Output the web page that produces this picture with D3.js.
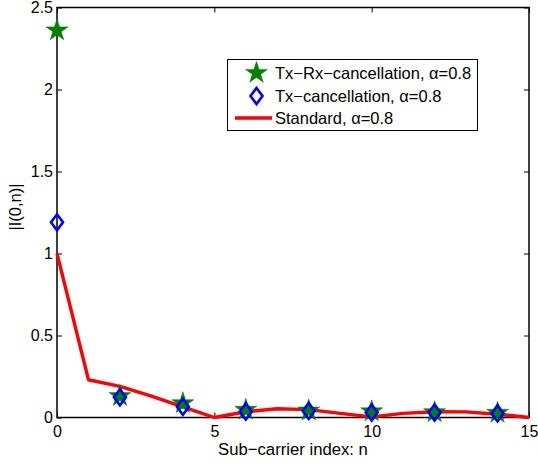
<!DOCTYPE html>
<html>
<head>
<meta charset="utf-8">
<style>
  body { margin: 0; background: #fff; }
  svg { font-family: "Liberation Sans", Arial, sans-serif; }
</style>
</head>
<body>
<script src="https://d3js.org/d3.v7.min.js"></script>
<svg id="chart" width="538" height="464"></svg>
<script>
// data
const stdN   = [0, 1, 2, 3, 4, 5, 6, 7, 8, 9, 10, 11, 12, 13, 14, 15];
const stdVal = [1, 0.23, 0.19, 0.13, 0.065, 0, 0.035, 0.053, 0.048, 0.025, 0.004, 0.025, 0.035, 0.034, 0.02, 0];
const markN  = [0, 2, 4, 6, 8, 10, 12, 14];
const txRxVal = [2.36, 0.13, 0.087, 0.047, 0.042, 0.037, 0.032, 0.028];
const txVal   = [1.19, 0.123, 0.065, 0.036, 0.04, 0.03, 0.03, 0.025];
const xTicks = [0, 5, 10, 15];
const yTicks = [0, 0.5, 1, 1.5, 2, 2.5];
const legendLabels = ["Tx\u2212Rx\u2212cancellation, \u03b1=0.8", "Tx\u2212cancellation, \u03b1=0.8", "Standard, \u03b1=0.8"];

const svg = d3.select("#chart");
const mLeft = 57, mRight = 529, mTop = 7.5, mBottom = 417.5;

const x = d3.scaleLinear().domain([0, 15]).range([mLeft, mRight]);
const y = d3.scaleLinear().domain([0, 2.5]).range([mBottom, mTop]);

// axes (matlab-ish box with inward ticks)
const tl = 5;
svg.append("g").attr("transform", `translate(0,${mBottom})`)
  .call(d3.axisBottom(x).tickValues(xTicks).tickSize(-tl).tickPadding(8).tickFormat(d3.format("d")))
  .call(g => g.select(".domain").remove());
svg.append("g").attr("transform", `translate(0,${mTop})`)
  .call(d3.axisTop(x).tickValues(xTicks).tickSize(-tl).tickFormat(""))
  .call(g => g.select(".domain").remove());
svg.append("g").attr("transform", `translate(${mLeft},0)`)
  .call(d3.axisLeft(y).tickValues(yTicks).tickSize(-tl).tickPadding(4).tickFormat(d => d))
  .call(g => g.select(".domain").remove());
svg.append("g").attr("transform", `translate(${mRight},0)`)
  .call(d3.axisRight(y).tickValues(yTicks).tickSize(-tl).tickFormat(""))
  .call(g => g.select(".domain").remove());

svg.selectAll(".tick line").attr("stroke", "#000").attr("stroke-width", 1);
svg.selectAll(".tick text").attr("fill", "#000").style("font-size", "16px").style("font-family", "Liberation Sans, Arial, sans-serif");

svg.append("rect")
  .attr("x", mLeft).attr("y", mTop).attr("width", mRight - mLeft).attr("height", mBottom - mTop)
  .attr("fill", "none").attr("stroke", "#000").attr("stroke-width", 1.5);

// standard line
const line = d3.line().x((d, i) => x(stdN[i])).y(d => y(d));
svg.append("path").datum(stdVal)
  .attr("d", line).attr("fill", "none").attr("stroke", "#ff0000").attr("stroke-width", 3.4)
  .attr("stroke-linejoin", "round");

const star = d3.symbol().type(d3.symbolStar).size(150);
const diamond = "M0,-8 L6,0 L0,8 L-6,0 Z";

svg.append("g").selectAll("path")
  .data(txRxVal).join("path")
  .attr("transform", (d, i) => `translate(${x(markN[i])},${y(d)})`)
  .attr("d", star).attr("fill", "#008000").attr("stroke", "#008000").attr("stroke-width", 0.5);

svg.append("g").selectAll("path")
  .data(txVal).join("path")
  .attr("transform", (d, i) => `translate(${x(markN[i])},${y(d)})`)
  .attr("d", diamond).attr("fill", "none").attr("stroke", "#0000ff").attr("stroke-width", 2.6);

// legend
const lg = svg.append("g");
lg.append("rect").attr("x", 227.5).attr("y", 59.5).attr("width", 250).attr("height", 71)
  .attr("fill", "#fff").attr("stroke", "#000").attr("stroke-width", 1);
const rowY = [73, 96, 118];
lg.append("path").attr("transform", `translate(256.5,${rowY[0]})`).attr("d", star)
  .attr("fill", "#008000").attr("stroke", "#008000").attr("stroke-width", 0.5);
lg.append("path").attr("transform", `translate(256.5,${rowY[1]})`).attr("d", diamond)
  .attr("fill", "none").attr("stroke", "#0000ff").attr("stroke-width", 2.6);
lg.append("line").attr("x1", 235).attr("x2", 272).attr("y1", rowY[2]).attr("y2", rowY[2])
  .attr("stroke", "#ff0000").attr("stroke-width", 3.4);
lg.selectAll("text").data(legendLabels).join("text")
  .attr("x", 275).attr("y", (d, i) => rowY[i] + 6)
  .style("font-size", "16.5px").text(d => d);

// axis labels
svg.append("text").attr("x", (mLeft + mRight) / 2).attr("y", 455)
  .attr("text-anchor", "middle").style("font-size", "16.7px").text("Sub\u2212carrier index: n");
svg.append("text").attr("transform", "translate(21,207) rotate(-90)")
  .attr("text-anchor", "middle").style("font-size", "16.5px").text("|I(0,n)|");
</script>
</body>
</html>
